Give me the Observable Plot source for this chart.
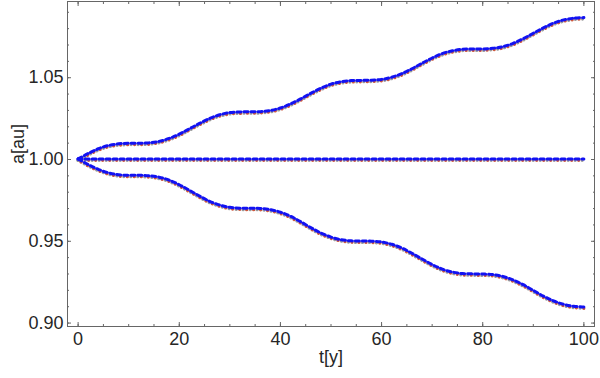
<!DOCTYPE html>
<html><head><meta charset="utf-8">
<script src="https://cdn.jsdelivr.net/npm/d3@7"></script>
<script src="https://cdn.jsdelivr.net/npm/@observablehq/plot@0.6"></script>
<style>body{margin:0;background:#fff;}</style>
</head><body><div id="chart"></div>
<script>
const tYears = [0,2,4,6,8,10,12,14,16,18,20,22,24,26,28,30,32,34,36,38,40,42,44,46,48,50,52,54,56,58,60,62,64,66,68,70,72,74,76,78,80,82,84,86,88,90,92,94,96,98,100];
const aUpper = [1.0000,1.0033,1.0062,1.0082,1.0092,1.0096,1.0096,1.0098,1.0107,1.0125,1.0151,1.0184,1.0217,1.0247,1.0270,1.0283,1.0287,1.0288,1.0289,1.0296,1.0311,1.0336,1.0367,1.0401,1.0432,1.0457,1.0472,1.0479,1.0480,1.0481,1.0486,1.0499,1.0521,1.0551,1.0585,1.0617,1.0644,1.0661,1.0670,1.0672,1.0672,1.0676,1.0686,1.0706,1.0735,1.0768,1.0801,1.0830,1.0850,1.0860,1.0864];
const aLower = [1.0000,0.9965,0.9936,0.9915,0.9903,0.9900,0.9900,0.9897,0.9888,0.9870,0.9842,0.9808,0.9773,0.9741,0.9718,0.9704,0.9699,0.9698,0.9697,0.9690,0.9674,0.9649,0.9616,0.9580,0.9547,0.9522,0.9506,0.9499,0.9498,0.9497,0.9492,0.9478,0.9455,0.9423,0.9388,0.9354,0.9326,0.9308,0.9299,0.9297,0.9296,0.9293,0.9281,0.9260,0.9231,0.9196,0.9161,0.9132,0.9111,0.9099,0.9094];
const tMiddle = [0, 100];
const aMiddle = [1.0, 1.0];
const xTicks = [0, 20, 40, 60, 80, 100];
const yTicks = [0.90, 0.95, 1.00, 1.05];
const xMinor = d3.range(0, 101, 5);
const yMinor = d3.range(90, 110).map(d => d / 100);
const xLabel = "t[y]";
const yLabel = "a[au]";

const rows = [];
tYears.forEach((t, i) => { rows.push({t, a: aUpper[i], s: "upper"}); });
tMiddle.forEach((t, i) => { rows.push({t, a: aMiddle[i], s: "middle"}); });
tYears.forEach((t, i) => { rows.push({t, a: aLower[i], s: "lower"}); });

const lineOpts = {x: "t", y: "a", z: "s", curve: "catmull-rom"};
const axisColor = "#666";
const tickOpts = {label: null, tickFormat: () => "", stroke: axisColor};

const chart = Plot.plot({
  width: 600,
  height: 378,
  marginLeft: 67,
  marginRight: 6,
  marginTop: 1,
  marginBottom: 52,
  style: {fontFamily: "'Liberation Sans', Arial, sans-serif", fontSize: "18px", color: "#262626", background: "#fff"},
  x: {domain: [-2.1, 102.1]},
  y: {domain: [0.8979, 1.0966]},
  marks: [
    Plot.frame({stroke: axisColor}),
    Plot.axisX(xTicks, {anchor: "bottom", tickSize: 0, tickPadding: 6, label: null, fontSize: 18}),
    Plot.axisY(yTicks, {anchor: "left", tickSize: 0, tickPadding: 4, tickFormat: d3.format(".2f"), label: null, fontSize: 18}),
    Plot.axisX(xTicks, {...tickOpts, anchor: "bottom", tickSize: -4}),
    Plot.axisX(xTicks, {...tickOpts, anchor: "top", tickSize: -4}),
    Plot.axisX(xMinor, {...tickOpts, anchor: "bottom", tickSize: -2}),
    Plot.axisX(xMinor, {...tickOpts, anchor: "top", tickSize: -2}),
    Plot.axisY(yTicks, {...tickOpts, anchor: "left", tickSize: -4}),
    Plot.axisY(yTicks, {...tickOpts, anchor: "right", tickSize: -4}),
    Plot.axisY(yMinor, {...tickOpts, anchor: "left", tickSize: -2}),
    Plot.axisY(yMinor, {...tickOpts, anchor: "right", tickSize: -2}),
    Plot.line(rows, {...lineOpts, stroke: "#9a9a9a", strokeWidth: 3.2, strokeLinecap: "round", strokeDasharray: "0.1,6.9", dy: 0.8}),
    Plot.line(rows, {...lineOpts, stroke: "#cc5a40", strokeWidth: 3.2, strokeLinecap: "round", strokeDasharray: "0.1,6.9", strokeDashoffset: -3.5, dy: 0.8}),
    Plot.line(rows, {...lineOpts, stroke: "#1212f2", strokeWidth: 3, strokeDasharray: "4,3", dy: -0.6}),
    Plot.text([xLabel], {text: d => d, frameAnchor: "bottom", dy: 36, fontSize: 18, fill: "#262626"}),
    Plot.text([yLabel], {text: d => d, frameAnchor: "left", dx: -49, rotate: -90, fontSize: 18, fill: "#262626"})
  ]
});
document.getElementById("chart").appendChild(chart);
</script>
</body></html>
